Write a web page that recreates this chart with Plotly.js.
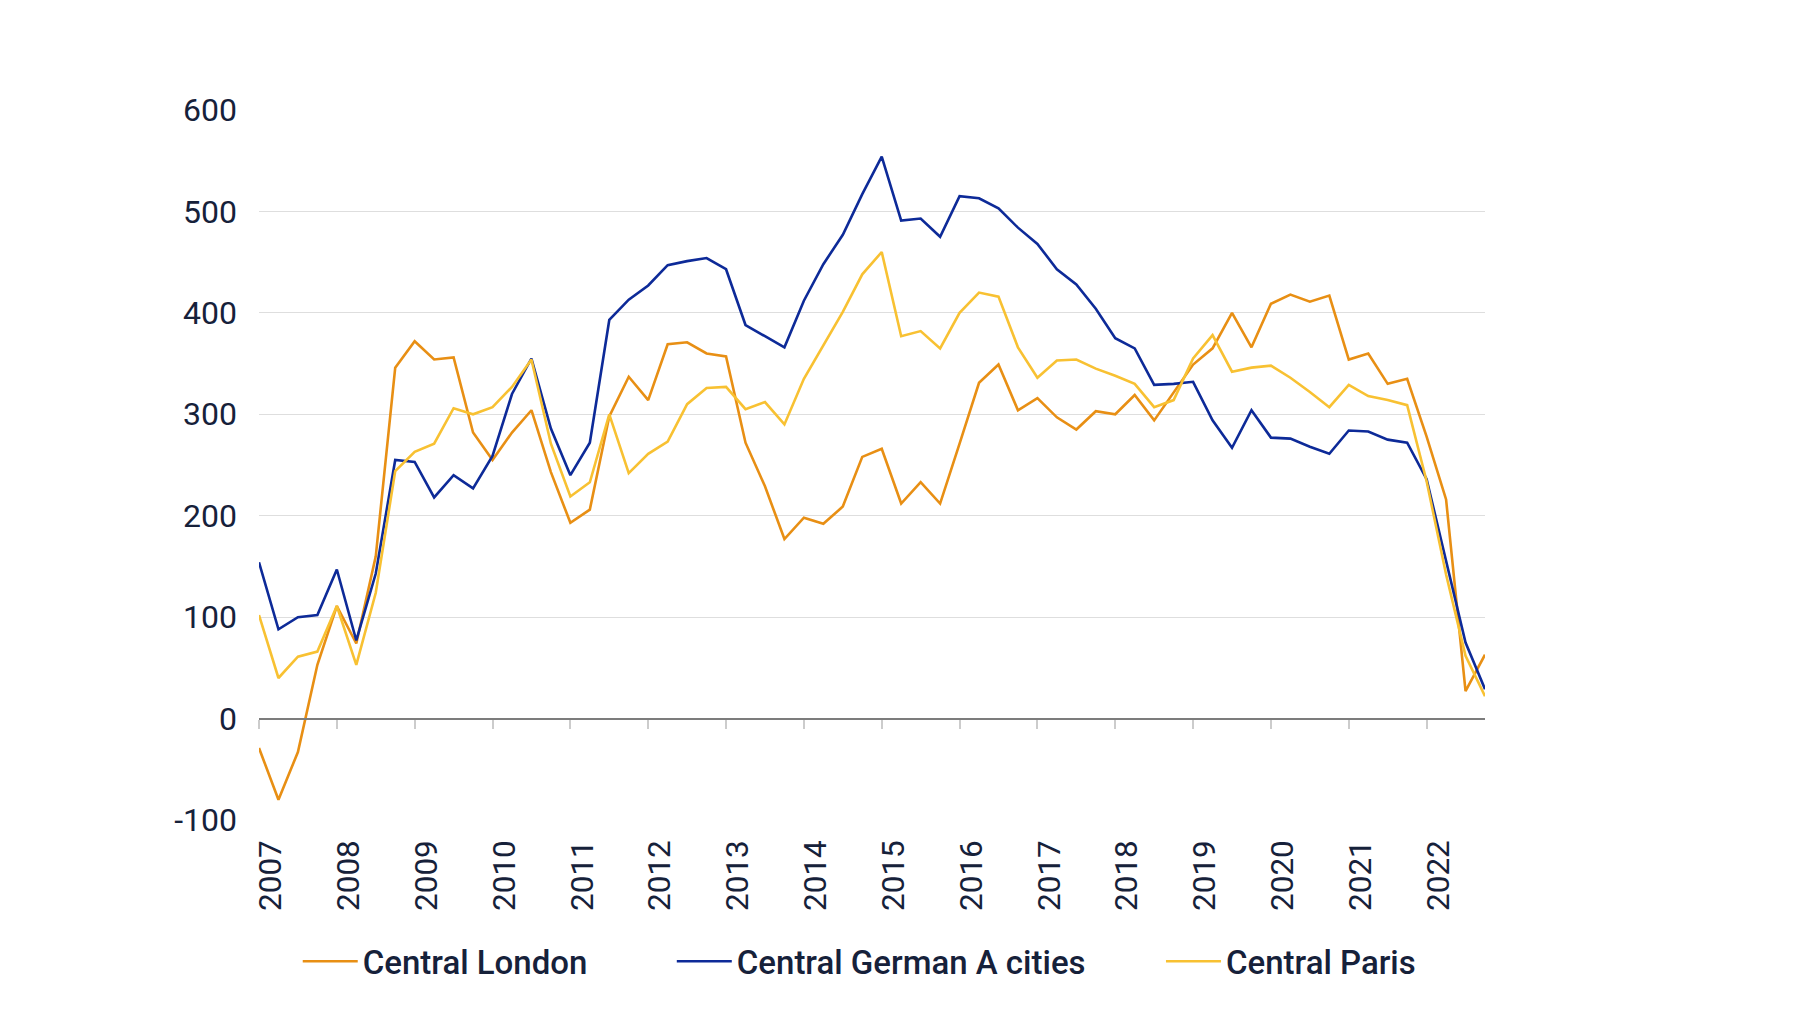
<!DOCTYPE html>
<html>
<head>
<meta charset="utf-8">
<script src="https://cdn.plot.ly/plotly-3.0.1.min.js"></script>
<style>
  html, body { margin: 0; padding: 0; background: #ffffff; }
  #chart { width: 1812px; height: 1010px; }
</style>
</head>
<body>
<div id="chart"></div>
<script>
const quarters = [
    '2007-Q1', '2007-Q2', '2007-Q3', '2007-Q4', '2008-Q1', '2008-Q2', '2008-Q3', '2008-Q4',
    '2009-Q1', '2009-Q2', '2009-Q3', '2009-Q4', '2010-Q1', '2010-Q2', '2010-Q3', '2010-Q4',
    '2011-Q1', '2011-Q2', '2011-Q3', '2011-Q4', '2012-Q1', '2012-Q2', '2012-Q3', '2012-Q4',
    '2013-Q1', '2013-Q2', '2013-Q3', '2013-Q4', '2014-Q1', '2014-Q2', '2014-Q3', '2014-Q4',
    '2015-Q1', '2015-Q2', '2015-Q3', '2015-Q4', '2016-Q1', '2016-Q2', '2016-Q3', '2016-Q4',
    '2017-Q1', '2017-Q2', '2017-Q3', '2017-Q4', '2018-Q1', '2018-Q2', '2018-Q3', '2018-Q4',
    '2019-Q1', '2019-Q2', '2019-Q3', '2019-Q4', '2020-Q1', '2020-Q2', '2020-Q3', '2020-Q4',
    '2021-Q1', '2021-Q2', '2021-Q3', '2021-Q4', '2022-Q1', '2022-Q2', '2022-Q3', '2022-Q4'];

const yearTicks = [
    '2007-Q1', '2008-Q1', '2009-Q1', '2010-Q1', '2011-Q1', '2012-Q1', '2013-Q1', '2014-Q1',
    '2015-Q1', '2016-Q1', '2017-Q1', '2018-Q1', '2019-Q1', '2020-Q1', '2021-Q1', '2022-Q1'];
const yearLabels = [
    '2007', '2008', '2009', '2010', '2011', '2012', '2013', '2014',
    '2015', '2016', '2017', '2018', '2019', '2020', '2021', '2022'];

const yTicks = [-100, 0, 100, 200, 300, 400, 500, 600];
const yLabels = ['-100', '0', '100', '200', '300', '400', '500', '600'];

const london = [
    -29, -80, -33, 53, 111, 74, 160, 346,
    372, 354, 356, 282, 255, 282, 304, 243,
    193, 206, 298, 337, 314, 369, 371, 360,
    357, 272, 229, 177, 198, 192, 209, 258,
    266, 212, 233, 212, 271, 331, 349, 304,
    316, 297, 285, 303, 300, 319, 294, 322,
    349, 365, 400, 366, 409, 418, 411, 417,
    354, 360, 330, 335, 278, 216, 27, 63];

const german = [
    154, 88, 100, 102, 147, 77, 143, 255,
    253, 218, 240, 227, 259, 320, 355, 286,
    240, 272, 393, 413, 427, 447, 451, 454,
    443, 388, 377, 366, 412, 448, 477, 517,
    554, 491, 493, 475, 515, 513, 503, 484,
    468, 443, 428, 404, 375, 365, 329, 330,
    332, 294, 267, 304, 277, 276, 268, 261,
    284, 283, 275, 272, 236, 156, 75, 29];

const paris = [
    102, 40, 61, 66, 111, 53, 124, 244,
    263, 271, 306, 300, 307, 327, 354, 271,
    219, 233, 300, 242, 261, 273, 310, 326,
    327, 305, 312, 290, 335, 368, 401, 438,
    460, 377, 382, 365, 400, 420, 416, 366,
    336, 353, 354, 345, 338, 330, 307, 314,
    355, 378, 342, 346, 348, 336, 322, 307,
    329, 318, 314, 309, 234, 142, 62, 22];

const textColor = '#16213a';
const fontFamily = 'Roboto, "Open Sans", sans-serif';

const londonTrace = {
    x: quarters,
    y: london,
    mode: 'lines',
    name: 'Central London',
    line: { color: '#e88f14', width: 2.6 },
    legend: 'legend',
};

const germanTrace = {
    x: quarters,
    y: german,
    mode: 'lines',
    name: 'Central German A cities',
    line: { color: '#0d2a98', width: 2.6 },
    legend: 'legend2',
};

const parisTrace = {
    x: quarters,
    y: paris,
    mode: 'lines',
    name: 'Central Paris',
    line: { color: '#f8c132', width: 2.6 },
    legend: 'legend3',
};

function legendAt(x) {
    return {
        orientation: 'h',
        x: x,
        xanchor: 'left',
        y: -0.199,
        yanchor: 'middle',
        itemwidth: 55,
        bgcolor: 'rgba(0,0,0,0)',
        font: { family: fontFamily, size: 33, weight: 500, color: textColor },
    };
}

const layout = {
    width: 1812,
    height: 1010,
    margin: { l: 259, r: 327, t: 110, b: 190 },
    paper_bgcolor: '#ffffff',
    plot_bgcolor: '#ffffff',
    font: { family: fontFamily, color: textColor },
    showlegend: true,
    legend: legendAt(0.0316),
    legend2: legendAt(0.3367),
    legend3: legendAt(0.7357),
    xaxis: {
        type: 'category',
        range: [0, 63],
        anchor: 'free',
        position: 100 / 700,
        showgrid: false,
        zeroline: false,
        showline: true,
        linecolor: '#7c7c7c',
        linewidth: 2,
        ticks: 'outside',
        ticklen: 9,
        tickwidth: 2,
        tickcolor: '#cccccc',
        tickmode: 'array',
        tickvals: yearTicks,
        ticktext: yearLabels,
        tickangle: -90,
        ticklabelstandoff: 99,
        ticklabelshift: 12,
        tickfont: { family: fontFamily, size: 31.5, color: textColor },
    },
    yaxis: {
        range: [-100, 600],
        tickmode: 'array',
        tickvals: yTicks,
        ticktext: yLabels,
        showgrid: true,
        gridcolor: '#dedede',
        gridwidth: 1,
        zeroline: false,
        showline: false,
        ticks: '',
        ticklabelstandoff: 21,
        tickfont: { family: fontFamily, size: 32, color: textColor },
    },
};

Plotly.newPlot('chart', [londonTrace, germanTrace, parisTrace], layout, { displayModeBar: false, staticPlot: true });
</script>
</body>
</html>
